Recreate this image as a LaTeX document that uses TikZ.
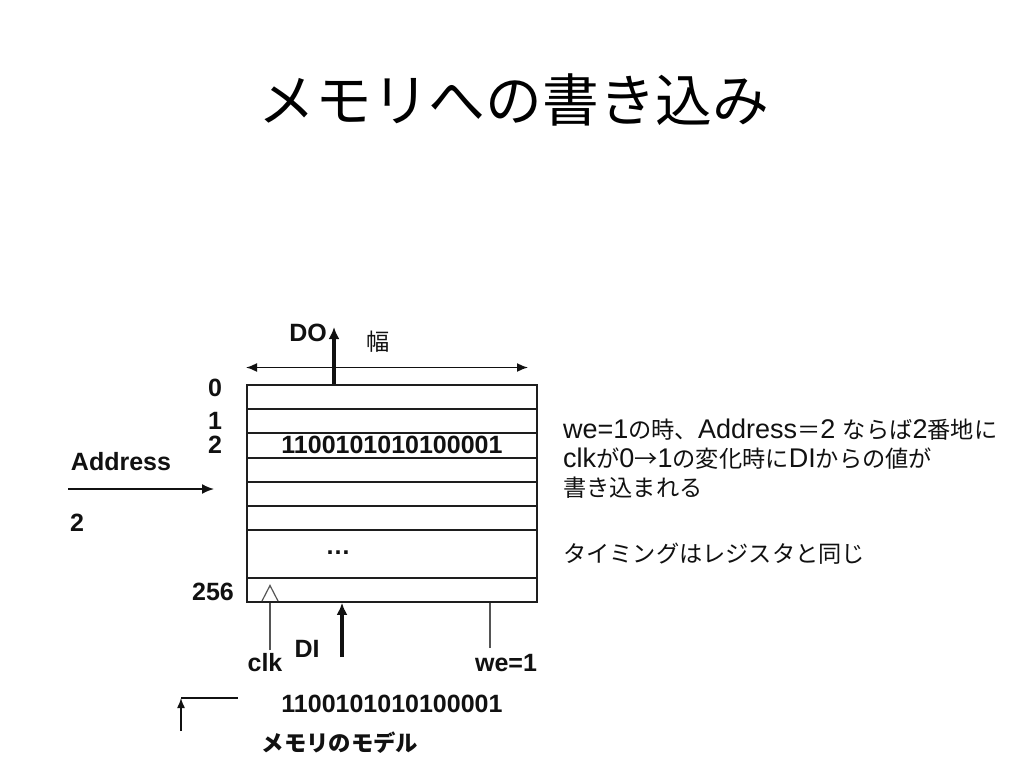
\documentclass[tikz,border=0pt]{standalone}
\usepackage{fontspec}
\setmainfont{Liberation Sans}
\newfontfamily\cjk[Scale=0.86]{Noto Sans CJK JP}
\usetikzlibrary{arrows.meta}
\definecolor{ink}{HTML}{111111}
\definecolor{boxline}{HTML}{1E1E1E}
\definecolor{thinline}{HTML}{555555}
\tikzset{
  lbl/.style={font=\fontsize{25}{27}\selectfont\bfseries, text=ink, inner sep=0pt},
  rtxt/.style={font=\fontsize{27}{29}\selectfont, text=ink, inner sep=0pt, anchor=base west},
  memrow/.style={draw=boxline, line width=1.8pt, minimum width=290pt, inner sep=0pt, anchor=north west},
  thickarrow/.style={draw=ink, line width=3.3pt, -{Latex[length=12pt,width=11pt]}},
  thinarrow/.style={draw=ink, line width=1.7pt, -{Latex[length=12pt,width=10pt]}},
  dblarrow/.style={draw=ink, line width=1.6pt, {Latex[length=11pt,width=9pt]}-{Latex[length=11pt,width=9pt]}},
  thin/.style={draw=thinline, line width=1.2pt},
}
\begin{document}
\begin{tikzpicture}[x=1pt,y=-1pt]
\useasboundingbox (0,0) rectangle (1024,768);
\fill[white] (0,0) rectangle (1024,768);

% title
\node[font=\cjk\fontsize{66}{70}\selectfont, text=black, inner sep=0pt] (title) at (514,100) {メモリへの書き込み};

% memory rows
\node[memrow, minimum height=24pt] (r0) at (246,384) {};
\node[memrow, minimum height=24pt] (r1) at (246,408) {};
\node[memrow, minimum height=25pt] (r2) at (246,432) {};
\node[memrow, minimum height=24pt] (r3) at (246,457) {};
\node[memrow, minimum height=24pt] (r4) at (246,481) {};
\node[memrow, minimum height=24pt] (r5) at (246,505) {};
\node[memrow, minimum height=48pt] (rdots) at (246,529) {};
\node[memrow, minimum height=24pt] (r256) at (246,577) {};

% row contents
\node[lbl] (data) at (392,445) {1100101010100001};
\node[lbl] (dots) at (338,553) {\ldots};

% row labels
\node[lbl] (l0) at (215,388) {0};
\node[lbl] (l1) at (215,421) {1};
\node[lbl] (l2) at (215,445) {2};
\node[lbl] (l256) at (213,592) {256};

% DO
\coordinate (dotop) at (334,327);
\draw[thickarrow] (r0.north -| dotop) -- (dotop);
\node[lbl] (do) at (308,333) {DO};
\node[font=\cjk\fontsize{27}{29}\selectfont, text=ink, inner sep=0pt] (haba) at (378,342) {幅};

% width arrow
\coordinate (wl) at (246,367.5);
\coordinate (wr) at (528,367.5);
\draw[dblarrow] (wl) -- (wr);

% address
\node[lbl] (addr) at (121,462) {Address};
\coordinate (al) at (68,489);
\coordinate (ar) at (214,489);
\draw[thinarrow] (al) -- (ar);
\node[lbl] (a2) at (77,523) {2};

% clk
\coordinate (trl) at (262,601);
\coordinate (trt) at (270,585.5);
\coordinate (trr) at (278,601);
\draw[thin] (trl) -- (trt) -- (trr);
\coordinate (clkb) at (270,650);
\draw[thin] (clkb) -- (clkb |- r256.south);
\node[lbl] (clk) at (265,663) {clk};

% DI
\coordinate (dib) at (342,657);
\draw[thickarrow] (dib) -- (dib |- r256.south);
\node[lbl] (di) at (307,649) {DI};

% we
\coordinate (web) at (490,648);
\draw[thin] (web) -- (web |- r256.south);
\node[lbl] (we) at (506,663) {we=1};

% bottom
\coordinate (bl) at (181,698);
\coordinate (br) at (238,698);
\coordinate (bb) at (181,731);
\draw[thin, draw=ink] (bl) -- (br);
\draw[draw=ink, line width=1.4pt, -{Latex[length=10pt,width=8pt]}] (bb) -- (bl);
\node[lbl] (data2) at (392,704) {1100101010100001};
\node[lbl, font=\cjk\fontsize{26}{28}\selectfont\bfseries] (model) at (340,743) {メモリのモデル};

% right text
\node[rtxt] (t1) at (563,438) {we=1{\cjk の時、}Address{\cjk ＝}2 {\cjk ならば}2{\cjk 番地に}};
\node[rtxt] (t2) at (563,467) {clk{\cjk が}0{\cjk →}1{\cjk の変化時に}DI{\cjk からの値が}};
\node[rtxt] (t3) at (563,496) {\cjk 書き込まれる};
\node[rtxt] (t4) at (563,562) {\cjk タイミングはレジスタと同じ};
\end{tikzpicture}
\end{document}
